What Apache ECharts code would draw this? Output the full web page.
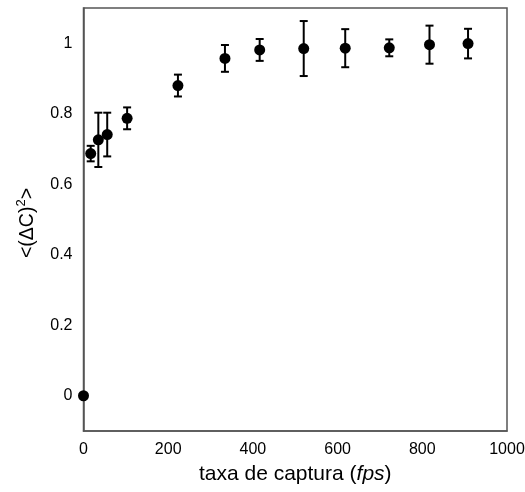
<!DOCTYPE html>
<html>
<head>
<meta charset="utf-8">
<script src="https://cdn.jsdelivr.net/npm/echarts@6/dist/echarts.min.js"></script>
<style>
  html, body { margin: 0; padding: 0; background: #fff; }
  #chart { width: 525px; height: 492px; }
</style>
</head>
<body>
<div id="chart"></div>
<script>
// capture rate (fps) and mean squared contrast change with its uncertainty
const captureRate = [0, 17, 35, 56, 103, 223, 334, 416, 520, 618, 722, 817, 908];
const meanValue   = [0, 0.687, 0.726, 0.741, 0.787, 0.880, 0.957, 0.981, 0.985, 0.986, 0.987, 0.996, 0.999];
const errorValue  = [0, 0.022, 0.077, 0.062, 0.031, 0.031, 0.038, 0.031, 0.078, 0.054, 0.024, 0.054, 0.042];
const xTicks = [0, 200, 400, 600, 800, 1000];
const yTicks = [0, 0.2, 0.4, 0.6, 0.8, 1];

const points = captureRate.map((x, i) => [x, meanValue[i]]);
const bars = captureRate
  .map((x, i) => [x, meanValue[i] - errorValue[i], meanValue[i] + errorValue[i]])
  .filter((d, i) => errorValue[i] > 0);

const font = 'Liberation Sans, Arial, sans-serif';
const chart = echarts.init(document.getElementById('chart'), null, { renderer: 'canvas' });

chart.setOption({
  animation: false,
  backgroundColor: '#fff',
  grid: {
    left: 83.5, right: 18, top: 8, bottom: 61,
    outerBoundsMode: 'none',
    containLabel: false,
    show: true, borderColor: '#555', borderWidth: 1.5, backgroundColor: 'transparent'
  },
  xAxis: {
    type: 'value', min: 0, max: 1000, interval: 200,
    axisLine: { show: true, onZero: false, lineStyle: { color: '#555', width: 1.5 } },
    axisTick: { show: false },
    splitLine: { show: false },
    axisLabel: {
      margin: 11, fontSize: 16, color: '#000', fontFamily: font,
      formatter: v => xTicks.includes(v) ? String(v) : ''
    },
    name: 'taxa de captura ({it|fps})',
    nameLocation: 'middle', nameGap: 33,
    nameTextStyle: {
      fontSize: 21, color: '#000', fontFamily: font,
      rich: { it: { fontSize: 21, fontStyle: 'italic', color: '#000', fontFamily: font } }
    }
  },
  yAxis: {
    type: 'value', min: -0.1, max: 1.1, interval: 0.1,
    axisLine: { show: true, onZero: false, lineStyle: { color: '#555', width: 1.5 } },
    axisTick: { show: false },
    splitLine: { show: false },
    axisLabel: {
      margin: 11, fontSize: 16, color: '#000', fontFamily: font,
      formatter: v => {
        const hit = yTicks.find(t => Math.abs(t - v) < 1e-6);
        return hit === undefined ? '' : String(hit);
      }
    },
    name: '<(ΔC){sup|2}>',
    nameLocation: 'middle', nameGap: 43,
    nameTextStyle: {
      fontSize: 19.5, color: '#000', fontFamily: font, lineHeight: 24,
      padding: [0, 7, 0, 0],
      rich: { sup: { fontSize: 13, color: '#000', fontFamily: font, verticalAlign: 'top', lineHeight: 24, padding: [0, 0, 8, 0] } }
    }
  },
  series: [
    {
      type: 'custom',
      data: bars,
      clip: false,
      z: 2,
      renderItem: (params, api) => {
        const x = api.value(0);
        const lo = api.coord([x, api.value(1)]);
        const hi = api.coord([x, api.value(2)]);
        const half = 4;
        const style = { stroke: '#000', lineWidth: 2 };
        return {
          type: 'group',
          children: [
            { type: 'line', shape: { x1: lo[0], y1: lo[1], x2: hi[0], y2: hi[1] }, style },
            { type: 'line', shape: { x1: hi[0] - half, y1: hi[1], x2: hi[0] + half, y2: hi[1] }, style },
            { type: 'line', shape: { x1: lo[0] - half, y1: lo[1], x2: lo[0] + half, y2: lo[1] }, style }
          ]
        };
      }
    },
    {
      type: 'scatter',
      data: points,
      symbol: 'circle',
      symbolSize: 11,
      clip: false,
      z: 3,
      itemStyle: { color: '#000', opacity: 1 }
    }
  ]
});
</script>
</body>
</html>
